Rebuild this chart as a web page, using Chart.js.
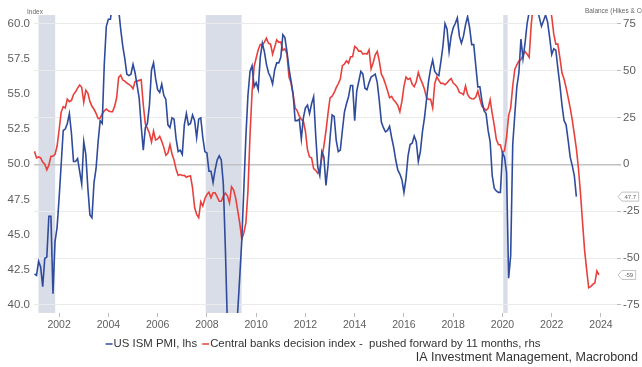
<!DOCTYPE html>
<html>
<head>
<meta charset="utf-8">
<script src="https://cdn.jsdelivr.net/npm/chart.js@4.4.1/dist/chart.umd.min.js"></script>
<style>
  html, body { margin: 0; padding: 0; background: #fff; }
  #wrap { position: relative; width: 642px; height: 367px; }
</style>
</head>
<body>
<div id="wrap"><canvas id="pmiChart" width="642" height="367"></canvas></div>
<script>
// monthly series, first value = Jan 2001
const startYear = 2001;

// US ISM manufacturing PMI, lhs (Jan 2001 - Jan 2023)
const ismPmi = [
  42.2, 42.1, 43.1, 42.7, 41.3, 43.3, 43.4, 46.3, 46.3, 40.8, 44.5, 45.5,
  47.6, 50.0, 52.4, 52.5, 52.9, 53.6, 52.2, 50.2, 50.2, 50.4, 49.5, 48.6,
  51.6, 50.7, 48.3, 46.4, 46.2, 48.7, 49.7, 51.6, 53.1, 52.9, 57.1, 59.8,
  60.3, 60.3, 61.5, 61.5, 60.8, 61.0, 59.6, 58.4, 57.5, 56.4, 56.3, 56.4,
  57.1, 56.5, 55.6, 54.7, 52.7, 51.0, 52.6, 52.9, 54.2, 56.7, 57.2, 56.1,
  55.3, 55.1, 55.7, 54.9, 54.6, 52.8, 52.6, 53.3, 53.2, 51.8, 50.9, 51.0,
  50.7, 52.8, 53.6, 52.8, 52.9, 53.5, 53.1, 51.9, 53.2, 53.3, 51.9, 50.9,
  50.8, 49.5, 49.5, 48.7, 49.6, 50.3, 50.6, 50.3, 48.6, 44.0, 38.5, 36.0,
  34.5, 35.0, 36.5, 39.5, 42.0, 44.6, 48.3, 52.0, 54.9, 56.6, 57.0, 55.5,
  55.8, 55.3, 57.6, 58.6, 58.0, 57.1, 56.5, 56.2, 55.7, 56.7, 57.2, 57.2,
  57.6, 59.2, 59.0, 58.0, 56.8, 55.9, 55.0, 53.1, 53.1, 53.2, 51.8, 53.3,
  54.0, 54.2, 53.6, 54.3, 54.8, 52.1, 49.8, 49.2, 50.9, 50.5, 48.5, 49.9,
  51.9, 53.5, 53.4, 51.7, 50.9, 51.0, 52.4, 53.7, 54.3, 54.8, 55.6, 55.6,
  53.1, 55.2, 55.9, 56.6, 56.4, 55.4, 55.3, 55.8, 56.2, 56.3, 56.4, 55.8,
  54.5, 53.0, 52.6, 52.3, 52.4, 52.7, 51.9, 51.2, 50.3, 49.6, 49.3, 48.9,
  48.0, 49.0, 50.6, 51.4, 51.5, 52.0, 51.6, 50.2, 50.9, 52.3, 53.3, 54.6,
  55.9, 56.8, 57.4, 56.6, 56.4, 56.3, 57.3, 58.4, 60.0, 59.6, 58.0, 59.1,
  59.7, 60.0, 60.4, 59.1, 58.6, 59.1, 59.9, 60.5, 59.7, 58.5, 58.5, 57.0,
  55.5, 55.5, 54.5, 53.8, 53.6, 52.4, 51.6, 49.2, 48.3, 48.1, 48.0, 48.0,
  50.8, 50.5, 49.4, 41.9, 43.5, 51.4, 53.5, 55.5, 56.5, 58.9, 57.5, 58.6,
  60.0, 60.8, 62.0, 63.0, 62.0, 61.0, 60.4, 59.8, 60.2, 60.6, 60.1, 59.0,
  57.8, 58.2, 58.1, 56.8, 55.6, 54.2, 53.1, 52.8, 51.7, 50.5, 49.9, 49.2,
  47.7
];

// Central banks decision index (hikes - cuts), pushed forward 11 months, rhs (Jan 2001 - Dec 2023)
const cbDecisions = [
  6.9, 3.4, 3.9, 3.4, 1.2, 0.0, -3.0, -0.5, 4.3, 4.3, 5.3, 9.6,
  18.4, 27.8, 30.7, 30.0, 34.7, 33.3, 34.0, 37.1, 38.6, 40.6, 42.2, 41.0,
  33.0, 39.4, 37.9, 33.5, 30.9, 29.3, 27.1, 24.3, 24.6, 26.8, 28.5, 29.4,
  28.5, 28.0, 28.0, 30.7, 35.3, 46.3, 47.5, 44.9, 44.3, 43.3, 42.6, 41.7,
  40.2, 44.1, 44.3, 44.7, 45.0, 31.7, 21.5, 19.1, 16.5, 11.9, 17.6, 12.9,
  13.5, 14.9, 12.2, 9.0, 4.8, 5.9, 10.5, 5.5, 2.1, -2.7, -6.0, -5.5,
  -6.0, -5.9, -6.9, -6.4, -6.2, -12.6, -22.9, -26.8, -28.5, -20.0, -22.3, -18.4,
  -16.1, -14.9, -17.9, -15.2, -15.2, -17.4, -19.7, -19.7, -17.0, -15.4, -16.8, -20.6,
  -12.0, -13.8, -17.9, -24.6, -31.4, -39.9, -36.5, -31.2, -14.4, 15.4, 38.5, 52.1,
  56.6, 61.0, 63.8, 63.5, 65.1, 67.2, 64.5, 64.0, 58.7, 62.4, 66.3, 65.1,
  65.1, 60.8, 61.5, 58.9, 46.5, 43.3, 36.9, 30.0, 28.5, 25.7, 23.9, 22.9,
  17.6, 7.8, 3.9, 3.4, -2.3, -3.2, -4.8, -2.7, 3.4, 9.8, 17.6, 27.1,
  35.3, 36.3, 38.1, 40.8, 42.9, 45.4, 52.5, 53.4, 55.1, 53.9, 57.3, 57.3,
  62.8, 61.9, 60.3, 60.3, 58.7, 59.0, 58.7, 61.0, 50.9, 54.1, 58.3, 60.1,
  55.0, 48.0, 45.9, 42.7, 39.2, 35.5, 36.2, 34.2, 33.0, 31.4, 28.0, 33.5,
  41.5, 46.5, 45.2, 45.9, 42.7, 41.3, 44.0, 48.9, 45.6, 43.1, 40.0, 35.5,
  34.6, 34.6, 30.0, 43.0, 46.6, 44.7, 43.1, 43.1, 42.4, 43.4, 44.7, 45.7,
  43.3, 42.4, 41.0, 38.3, 37.9, 37.1, 41.7, 37.2, 35.5, 34.9, 34.8, 35.8,
  39.0, 34.8, 30.9, 29.8, 28.7, 29.8, 34.4, 27.1, 20.7, 13.3, 10.5, 10.3,
  6.2, 7.3, 14.4, 25.9, 30.0, 41.7, 50.5, 53.0, 55.0, 55.8, 58.0, 60.1,
  58.7, 57.0, 74.3, 85.0, 90.0, 92.0, 92.0, 92.0, 90.0, 88.0, 86.0, 84.0,
  78.7, 69.3, 64.0, 64.0, 56.6, 48.6, 45.4, 40.8, 35.5, 30.0, 23.6, 16.1,
  8.3, -2.0, -15.4, -30.7, -45.6, -56.0, -65.8, -65.2, -64.0, -63.3, -56.9, -59.0
];

// US recessions (decimal years)
const recessions = [[2001.16, 2001.84], [2007.95, 2009.41], [2020.03, 2020.21]];

const yearTicks = [2002, 2004, 2006, 2008, 2010, 2012, 2014, 2016, 2018, 2020, 2022, 2024];
const pmiTicks = [40, 42.5, 45, 47.5, 50, 52.5, 55, 57.5, 60];
const balanceTicks = [-75, -50, -25, 0, 25, 50, 75];

const blue = '#2f4b9c';
const red = '#e8403d';
const fontFamily = '"Liberation Sans", Arial, sans-serif';

function toPoints(values) {
  return values.map((v, i) => ({ x: startYear + i / 12, y: v }));
}

function drawTag(ctx, x, y, text) {
  ctx.font = '6px ' + fontFamily;
  const w = ctx.measureText(text).width + 5;
  const h = 9;
  ctx.beginPath();
  ctx.moveTo(x, y);
  ctx.lineTo(x + 4, y - h / 2);
  ctx.lineTo(x + 4 + w, y - h / 2);
  ctx.lineTo(x + 4 + w, y + h / 2);
  ctx.lineTo(x + 4, y + h / 2);
  ctx.closePath();
  ctx.fillStyle = '#fff';
  ctx.fill();
  ctx.strokeStyle = '#b4b4b4';
  ctx.lineWidth = 0.8;
  ctx.stroke();
  ctx.fillStyle = '#666';
  ctx.textAlign = 'center';
  ctx.textBaseline = 'middle';
  ctx.fillText(text, x + 4 + w / 2, y + 0.5);
}

const overlay = {
  id: 'overlay',
  beforeDraw(chart) {
    const { ctx, chartArea, scales } = chart;
    ctx.save();
    ctx.fillStyle = '#d9dde7';
    recessions.forEach(([a, b]) => {
      const x0 = scales.x.getPixelForValue(a);
      const x1 = scales.x.getPixelForValue(b);
      ctx.fillRect(x0, chartArea.top, x1 - x0, chartArea.bottom - chartArea.top);
    });
    ctx.restore();
  },
  afterDraw(chart) {
    const { ctx, chartArea, scales } = chart;
    ctx.save();

    // axis titles
    ctx.font = '6.5px ' + fontFamily;
    ctx.fillStyle = '#666';
    ctx.textBaseline = 'middle';
    ctx.textAlign = 'left';
    ctx.fillText('Index', chartArea.left - 7, 12);
    ctx.fillText('Balance (Hikes & Cuts)', chartArea.right - 32, 11);

    // last value tags
    const lastPmi = ismPmi[ismPmi.length - 1];
    const lastCb = cbDecisions[cbDecisions.length - 1];
    drawTag(ctx, chartArea.right + 1, scales.yL.getPixelForValue(lastPmi), lastPmi.toFixed(1));
    drawTag(ctx, chartArea.right + 1, scales.yR.getPixelForValue(lastCb), String(Math.round(lastCb)));

    // legend
    const items = [
      { text: 'US ISM PMI, lhs', color: blue },
      { text: 'Central banks decision index -  pushed forward by 11 months, rhs', color: red }
    ];
    ctx.font = '11.4px ' + fontFamily;
    const markW = 7, markGap = 1, itemGap = 5;
    let total = 0;
    items.forEach((it, i) => {
      it.w = ctx.measureText(it.text).width;
      total += markW + markGap + it.w + (i ? itemGap : 0);
    });
    let x = 323 - total / 2;
    const ly = 344;
    items.forEach((it, i) => {
      if (i) x += itemGap;
      ctx.strokeStyle = it.color;
      ctx.lineWidth = 1.5;
      ctx.beginPath();
      ctx.moveTo(x, ly);
      ctx.lineTo(x + markW, ly);
      ctx.stroke();
      x += markW + markGap;
      ctx.fillStyle = '#333';
      ctx.textAlign = 'left';
      ctx.fillText(it.text, x, ly);
      x += it.w;
    });

    // source
    ctx.font = '12.5px ' + fontFamily;
    ctx.fillStyle = '#333';
    ctx.textAlign = 'right';
    ctx.fillText('IA Investment Management, Macrobond', 638, 358);
    ctx.restore();
  }
};

const tickFont = { family: fontFamily, size: 11.5 };

new Chart(document.getElementById('pmiChart'), {
  type: 'line',
  data: {
    datasets: [
      {
        label: 'US ISM PMI, lhs',
        data: toPoints(ismPmi),
        yAxisID: 'yL',
        borderColor: blue,
        borderWidth: 1.6,
        pointRadius: 0,
        tension: 0
      },
      {
        label: 'Central banks decision index -  pushed forward by 11 months, rhs',
        data: toPoints(cbDecisions),
        yAxisID: 'yR',
        borderColor: red,
        borderWidth: 1.6,
        pointRadius: 0,
        tension: 0
      }
    ]
  },
  options: {
    responsive: false,
    animation: false,
    devicePixelRatio: 1,
    layout: { padding: { left: 0, right: 0, top: 15, bottom: 34 } },
    plugins: {
      legend: { display: false },
      tooltip: { enabled: false }
    },
    scales: {
      x: {
        type: 'linear',
        min: 2000.98,
        max: 2024.65,
        afterBuildTicks: axis => { axis.ticks = yearTicks.map(v => ({ value: v })); },
        afterFit: scale => { scale.height = 20; },
        ticks: {
          autoSkip: false,
          maxRotation: 0,
          padding: 2,
          color: '#5e5e5e',
          font: { family: fontFamily, size: 10.5 },
          callback: v => String(v)
        },
        grid: { drawOnChartArea: false, drawTicks: true, tickLength: 4, tickColor: '#bbb' },
        border: { display: false }
      },
      yL: {
        position: 'left',
        min: 39.43,
        max: 60.605,
        afterBuildTicks: axis => { axis.ticks = pmiTicks.map(v => ({ value: v })); },
        afterFit: scale => { scale.width = 34; },
        ticks: { padding: 4, color: '#5e5e5e', font: tickFont, callback: v => v.toFixed(1) },
        grid: { display: false, drawTicks: false },
        border: { display: false }
      },
      yR: {
        position: 'right',
        min: -79.27,
        max: 79.54,
        afterBuildTicks: axis => { axis.ticks = balanceTicks.map(v => ({ value: v })); },
        afterFit: scale => { scale.width = 25; },
        ticks: { padding: 2, color: '#5e5e5e', font: tickFont, callback: v => String(v) },
        grid: {
          color: c => (c.tick && c.tick.value === 0 ? '#c2c2c2' : '#ebebeb'),
          lineWidth: c => (c.tick && c.tick.value === 0 ? 1.5 : 1),
          tickLength: 4,
          tickColor: '#bbb'
        },
        border: { display: false }
      }
    }
  },
  plugins: [overlay]
});
</script>
</body>
</html>
